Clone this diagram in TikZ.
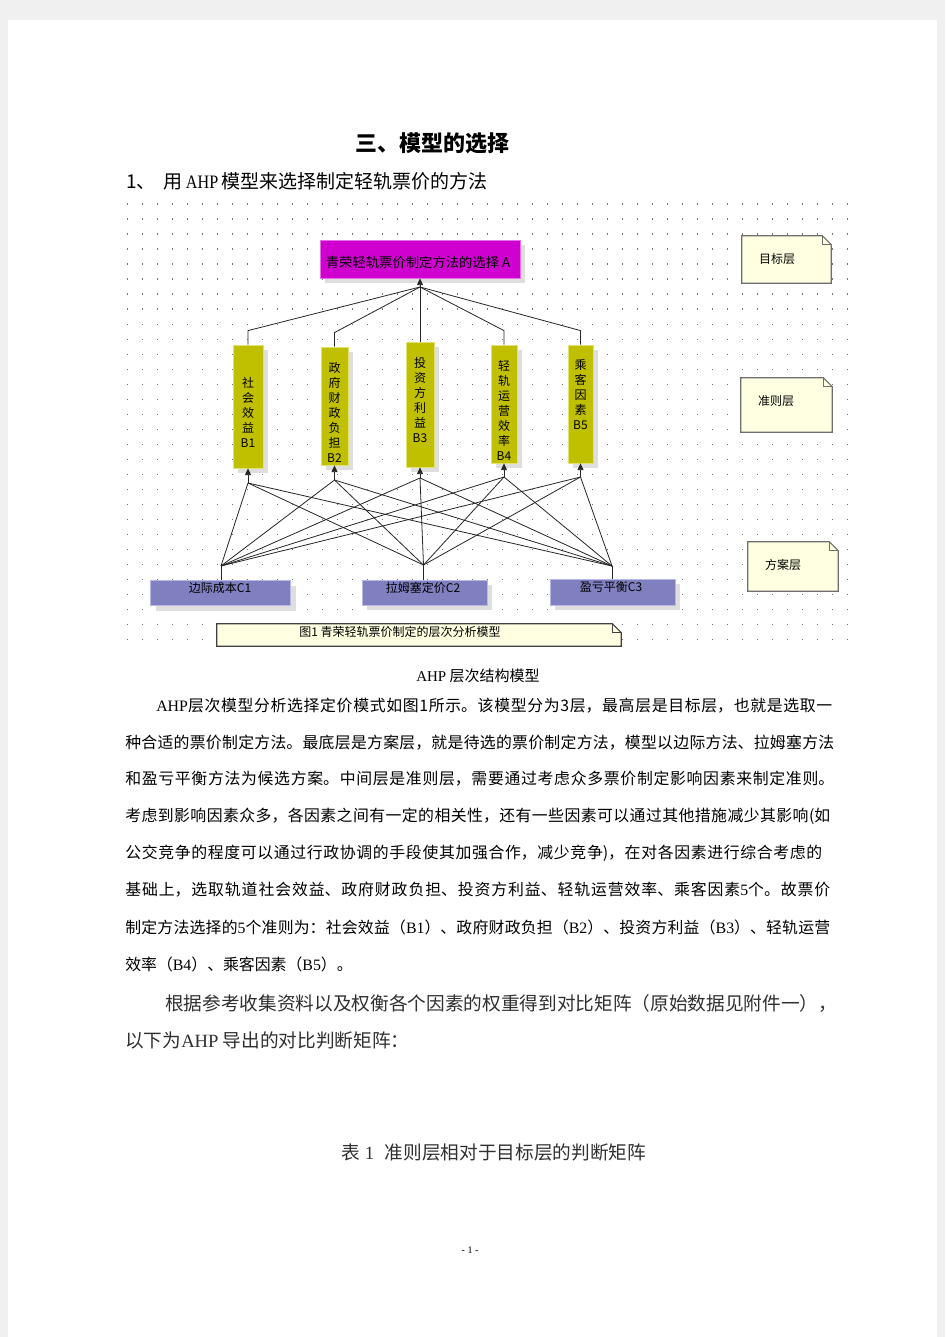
\documentclass[tikz,border=0pt]{standalone}
\usepackage{fontspec}
\usepackage{graphicx}
\setmainfont{Noto Sans CJK SC}
\newfontfamily\tnr{Liberation Serif}
\usetikzlibrary{arrows.meta,shadows}
\XeTeXlinebreaklocale "zh"
\XeTeXlinebreakskip=0pt plus 1pt
\definecolor{goalc}{RGB}{208,0,208}
\definecolor{goalb}{RGB}{232,110,232}
\definecolor{bfill}{RGB}{192,192,0}
\definecolor{bborder}{RGB}{226,226,110}
\definecolor{cfill}{RGB}{128,128,192}
\definecolor{cborder}{RGB}{184,184,232}
\definecolor{shadowc}{RGB}{222,222,222}
\definecolor{notefill}{RGB}{255,255,225}
\definecolor{notedraw}{RGB}{110,110,110}
\definecolor{capdraw}{RGB}{64,64,64}
\definecolor{pagegray}{RGB}{240,240,240}
\definecolor{txtgray}{RGB}{48,48,48}
\newcommand\parafont{\fontsize{11.9}{14}\selectfont}
\newcommand\pline[5]{\node[anchor=west, inner sep=0, font=\parafont] (#1) at (#2,#3) {\parbox{\dimexpr #4pt*3/4\relax}{\parfillskip=0pt\parindent=0pt\leftskip=0pt\rightskip=0pt #5}};}
\newcommand\foldshape[2]{%
  \filldraw[fill=notefill, draw=#2, line width=0.8pt] (#1.north west) -- ([xshift=-6.75pt]#1.north east) -- ([yshift=-6.75pt]#1.north east) -- (#1.south east) -- (#1.south west) -- cycle;
  \draw[draw=#2, line width=0.6pt] ([xshift=-6.75pt]#1.north east) -- ([xshift=-6.75pt,yshift=-6.75pt]#1.north east) -- ([yshift=-6.75pt]#1.north east);}
\begin{document}
\begin{tikzpicture}[x=0.75pt,y=-0.75pt,
  mw/.style={minimum width=#1*0.75pt},
  mh/.style={minimum height=#1*0.75pt},
  shad/.style={drop shadow={shadow xshift=3.75pt, shadow yshift=-3.75pt, fill=shadowc, opacity=1}},
  goalbox/.style={fill=goalc, draw=goalb, line width=0.6pt, inner sep=0, shad},
  bbox/.style={fill=bfill, draw=bborder, line width=0.6pt, inner sep=0, shad},
  cbox/.style={fill=cfill, draw=cborder, line width=0.6pt, inner sep=0, shad},
  notebox/.style={draw=none, inner sep=0},
  dtext/.style={inner sep=0, font=\fontsize{9}{11}\selectfont},
  vtext/.style={inner sep=0, align=center, font=\fontsize{9}{11.25}\selectfont},
  ln/.style={draw=black!85, line width=0.6pt},
  arr/.style={ln, -{Triangle[length=5pt,width=4.5pt]}}]
\useasboundingbox (0,0) rectangle (945,1337);
\fill[pagegray] (0,0) rectangle (945,1337);
\fill[white] (8,20) rectangle (937,1337);

% titles
\node[inner sep=0, font=\bfseries\fontsize{16.5}{18}\selectfont] (title) at (432,143) {三、模型的选择};
\node[anchor=west, inner sep=0, font=\fontsize{14.25}{16}\selectfont] (head) at (126,181) {1、\hspace{6pt}用\,{\tnr\scalebox{0.85}[1]{AHP}}\,模型来选择制定轻轨票价的方法};

% grid
\foreach \i in {0,...,48}{
  \foreach \j in {0,...,29}{
    \fill[black!55] (126.5+15*\i,203.5+15*\j) rectangle ++(1.2,1.2);
  }
}

% goal
\node[goalbox, mw=200, mh=38] (G) at (420,259) {};
\node[dtext, font=\fontsize{10}{12}\selectfont] (Gt) at (418,262) {青荣轻轨票价制定方法的选择 A};

% criteria
\node[bbox, mw=30, mh=123] (B1) at (248,406.5) {};
\node[bbox, mw=27, mh=118] (B2) at (334.5,406) {};
\node[bbox, mw=28, mh=125] (B3) at (420,404.5) {};
\node[bbox, mw=26, mh=118] (B4) at (504,404) {};
\node[bbox, mw=25, mh=118] (B5) at (580.5,404) {};
\node[vtext] (B1t) at (248,412) {社\\会\\效\\益\\B1};
\node[vtext] (B2t) at (334.5,412) {政\\府\\财\\政\\负\\担\\B2};
\node[vtext] (B3t) at (420,400.5) {投\\资\\方\\利\\益\\B3};
\node[vtext] (B4t) at (504,410.5) {轻\\轨\\运\\营\\效\\率\\B4};
\node[vtext] (B5t) at (580.5,395) {乘\\客\\因\\素\\B5};

% alternatives
\node[cbox, mw=140, mh=25] (C1) at (220.75,593) {};
\node[cbox, mw=125, mh=25] (C2) at (424.5,592.5) {};
\node[cbox, mw=125, mh=26] (C3) at (612.5,592) {};
\node[dtext] (C1l) at (220,588) {边际成本C1};
\node[dtext] (C2l) at (423,588) {拉姆塞定价C2};
\node[dtext] (C3l) at (611,587) {盈亏平衡C3};

% connectors goal <- criteria
\coordinate (Gin) at (420,287);
\draw[ln] (B1.north) -- ++(0,-14) -- (Gin);
\draw[ln] (B2.north) -- ++(0,-14) -- (Gin);
\draw[ln] (B3.north) -- (Gin);
\draw[ln] (B4.north) -- ++(0,-14) -- (Gin);
\draw[ln] (B5.north) -- ++(0,-14) -- (Gin);
\draw[arr] (Gin) -- (G.south);

% connectors criteria <- alternatives
\coordinate (Bb1) at (248,483);
\coordinate (Bb2) at (334.5,480);
\coordinate (Bb3) at (420,478);
\coordinate (Bb4) at (504,477);
\coordinate (Bb5) at (580.5,477);
\coordinate (A1) at (221,566);
\coordinate (A2) at (423.5,565);
\coordinate (A3) at (612,566);
\foreach \b in {1,...,5}{\draw[arr] (Bb\b) -- (B\b.south);}
\foreach \a in {1,2,3}{
  \draw[ln] (A\a |- C\a.north) -- (A\a);
  \foreach \b in {1,...,5}{\draw[ln] (A\a) -- (Bb\b);}
}

% caption box
\node[notebox, mw=404, mh=22] (cap) at (419,635) {};
\foldshape{cap}{capdraw}
\node[dtext] (capt) at (400,632) {图1\ 青荣轻轨票价制定的层次分析模型};

% layer notes
\node[notebox, mw=89, mh=47] (N1) at (786.5,259.5) {};
\node[notebox, mw=91, mh=54] (N2) at (786.5,405) {};
\node[notebox, mw=90, mh=49] (N3) at (793,566.5) {};
\foldshape{N1}{notedraw}
\foldshape{N2}{notedraw}
\foldshape{N3}{notedraw}
\node[dtext] (N1t) at (777,259) {目标层};
\node[dtext] (N2t) at (776,401) {准则层};
\node[dtext] (N3t) at (783,565) {方案层};

% body text
\node[inner sep=0, font=\fontsize{11.25}{13}\selectfont] (fcap) at (478,676) {{\tnr AHP} 层次结构模型};
\pline{p1}{156}{706}{676}{{\tnr AHP}层次模型分析选择定价模式如图1所示。该模型分为3层，最高层是目标层，也就是选取一}
\pline{p2}{125}{743}{709}{种合适的票价制定方法。最底层是方案层，就是待选的票价制定方法，模型以边际方法、拉姆塞方法}
\pline{p3}{125}{779}{709}{和盈亏平衡方法为候选方案。中间层是准则层，需要通过考虑众多票价制定影响因素来制定准则。}
\pline{p4}{125}{816}{705}{考虑到影响因素众多，各因素之间有一定的相关性，还有一些因素可以通过其他措施减少其影响(如}
\pline{p5}{125}{853}{697}{公交竞争的程度可以通过行政协调的手段使其加强合作，减少竞争)，在对各因素进行综合考虑的}
\pline{p6}{125}{890}{705}{基础上，选取轨道社会效益、政府财政负担、投资方利益、轻轨运营效率、乘客因素{\tnr 5}个。故票价}
\pline{p7}{125}{927}{705}{制定方法选择的{\tnr 5}个准则为：社会效益（{\tnr B1}）、政府财政负担（{\tnr B2}）、投资方利益（{\tnr B3}）、轻轨运营}
\node[anchor=west, inner sep=0, font=\parafont] (p8) at (125,964) {效率（{\tnr B4}）、乘客因素（{\tnr B5}）。};

\node[anchor=west, inner sep=0, font=\fontsize{14}{16}\selectfont, text=txtgray] (p9) at (165,1003) {根据参考收集资料以及权衡各个因素的权重得到对比矩阵（原始数据见附件一），};
\node[anchor=west, inner sep=0, font=\fontsize{14}{16}\selectfont, text=txtgray] (p10) at (125,1040) {以下为{\tnr AHP} 导出的对比判断矩阵：};

\node[inner sep=0, font=\fontsize{14}{16}\selectfont, text=txtgray] (tcap) at (494,1152) {表 {\tnr 1}\hspace{8pt}准则层相对于目标层的判断矩阵};

\node[inner sep=0, font=\tnr\fontsize{7.5}{9}\selectfont] (pnum) at (470,1250) {- 1 -};
\end{tikzpicture}
\end{document}
